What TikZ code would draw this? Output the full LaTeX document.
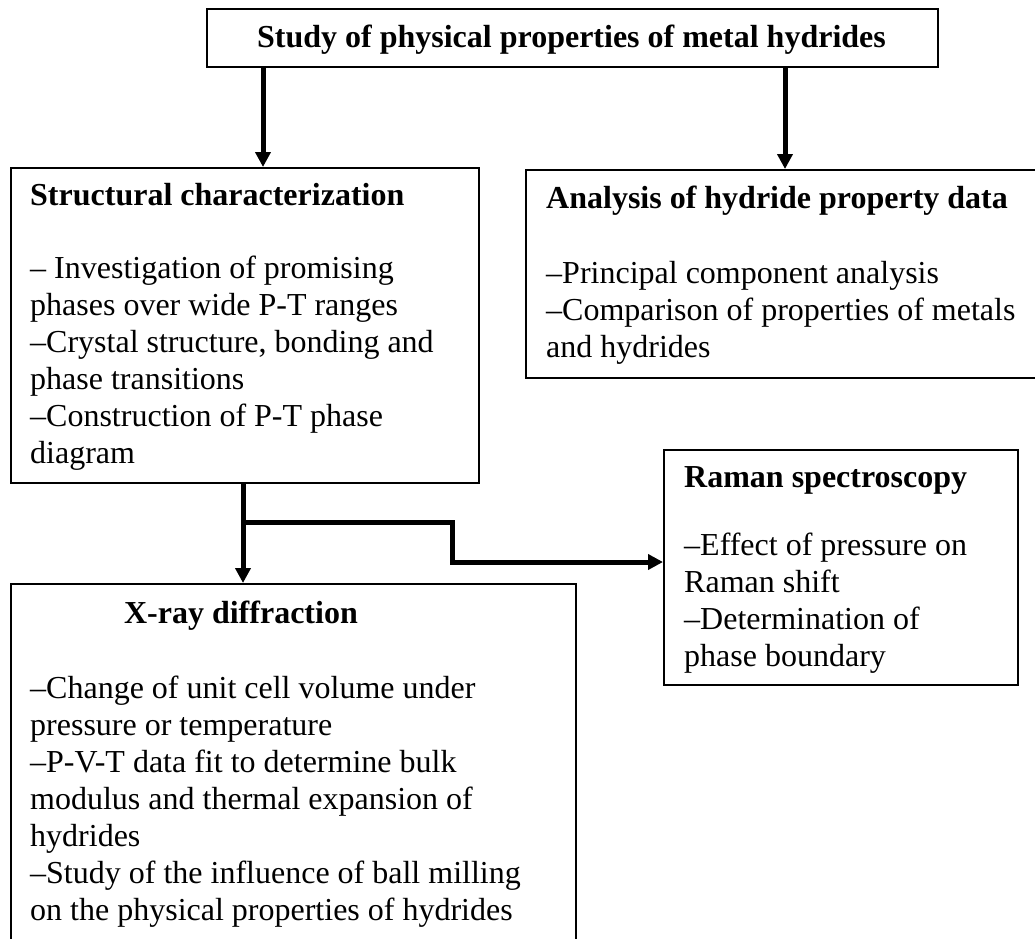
\documentclass[tikz,border=0pt]{standalone}
\usepackage{fontspec}
\setmainfont{Liberation Serif}
\usetikzlibrary{arrows.meta}
\begin{document}
\begin{tikzpicture}[x=1pt,y=-1pt,
  box/.style={draw, line width=2pt, anchor=north west, inner sep=0pt},
  txt/.style={anchor=base west, inner sep=0pt, font=\fontsize{32}{37}\selectfont},
  hd/.style={anchor=base west, inner sep=0pt, font=\fontsize{32}{37}\selectfont\bfseries},
  tipstyle/.style={-{Triangle[width=15pt,length=15pt]}},
  arr/.style={line width=5pt, line join=miter, tipstyle}]
\useasboundingbox (0,0) rectangle (1035,938);
\clip (0,0) rectangle (1035,938);
\fill[white] (0,0) rectangle (1035,938);

% boxes
\node[box, minimum width=731pt, minimum height=58pt] (top) at (206,8) {};
\node[box, minimum width=468pt, minimum height=315pt] (struct) at (10,167) {};
\node[box, minimum width=530pt, minimum height=208pt] (anal) at (525,169) {};
\node[box, minimum width=354pt, minimum height=235pt] (raman) at (663,449) {};
\node[box, minimum width=565pt, minimum height=380pt] (xray) at (10,583) {};

% top text
\node[hd, anchor=base] (ttop) at (571.5,47) {Study of physical properties of metal hydrides};

% structural characterization
\node[hd] (s0) at (30,205) {Structural characterization};
\node[txt] (s1) at (30,278) {– Investigation of promising};
\node[txt] (s2) at (30,315) {phases over wide P-T ranges};
\node[txt] (s3) at (30,352) {–Crystal structure, bonding and};
\node[txt] (s4) at (30,389) {phase transitions};
\node[txt] (s5) at (30,426) {–Construction of P-T phase};
\node[txt] (s6) at (30,463) {diagram};

% analysis
\node[hd] (a0) at (546,208) {Analysis of hydride property data};
\node[txt] (a1) at (546,283) {–Principal component analysis};
\node[txt] (a2) at (546,320) {–Comparison of properties of metals};
\node[txt] (a3) at (546,357) {and hydrides};

% raman
\node[hd] (r0) at (684,487) {Raman spectroscopy};
\node[txt] (r1) at (684,555) {–Effect of pressure on};
\node[txt] (r2) at (684,592) {Raman shift};
\node[txt] (r3) at (684,629) {–Determination of};
\node[txt] (r4) at (684,666) {phase boundary};

% x-ray
\node[hd, anchor=base east] (x0) at (358,623) {X-ray diffraction};
\node[txt] (x1) at (30,698) {–Change of unit cell volume under};
\node[txt] (x2) at (30,735) {pressure or temperature};
\node[txt] (x3) at (30,772) {–P-V-T data fit to determine bulk};
\node[txt] (x4) at (30,809) {modulus and thermal expansion of};
\node[txt] (x5) at (30,846) {hydrides};
\node[txt] (x6) at (30,883) {–Study of the influence of ball milling};
\node[txt] (x7) at (30,920) {on the physical properties of hydrides};

% connectors
\coordinate (tl) at (263,66);
\coordinate (tr) at (785,66);
\draw[arr] (tl) -- (tl |- struct.north);
\draw[arr] (tr) -- (tr |- anal.north);
\coordinate (sb) at (243,482);
\draw[arr] (sb) -- (sb |- xray.north);
\coordinate (br) at (243,522);
\coordinate (bk) at (452,522);
\coordinate (rk) at (452,562);
\draw[arr] (br) -- (bk) -- (rk) -- (rk -| raman.west);
\end{tikzpicture}
\end{document}
